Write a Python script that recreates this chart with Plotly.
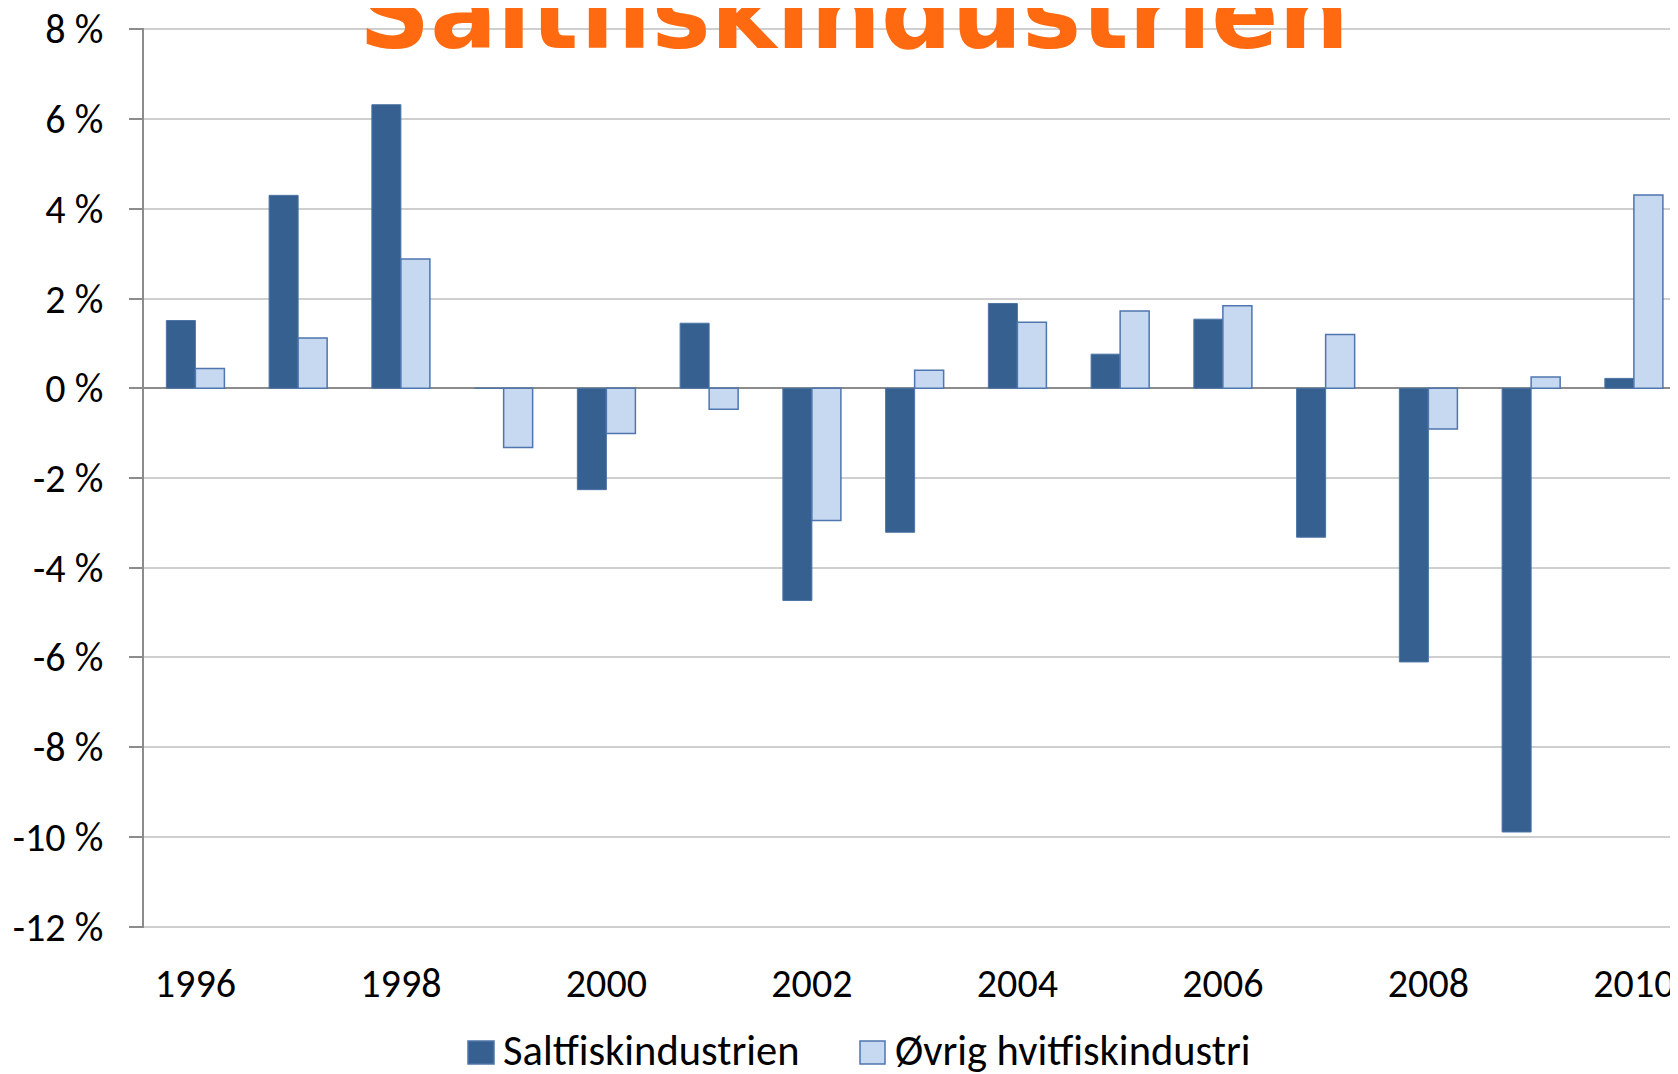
import plotly.graph_objects as go

years = [1996, 1997, 1998, 1999, 2000, 2001, 2002, 2003, 2004, 2005, 2006, 2007, 2008, 2009, 2010]
saltfisk = [1.51, 4.30, 6.32, 0.0, -2.26, 1.45, -4.73, -3.21, 1.89, 0.76, 1.54, -3.32, -6.10, -9.89, 0.22]
ovrig = [0.44, 1.12, 2.88, -1.32, -1.01, -0.47, -2.95, 0.40, 1.47, 1.72, 1.84, 1.20, -0.91, 0.25, 4.31]
x_tick_years = [1996, 1998, 2000, 2002, 2004, 2006, 2008, 2010]
y_ticks = [-12, -10, -8, -6, -4, -2, 0, 2, 4, 6, 8]
y_tick_text = [f"{v} %" for v in y_ticks]
series_names = ["Saltfiskindustrien", "Øvrig hvitfiskindustri"]
title_text = "Saltfiskindustrien"

# page body has an 8px margin; figure is laid out in window pixels
OFF = 8
W, H = 1678 - OFF, 1074 - OFF
PLOT_L, PLOT_T, PLOT_B = 144, 28, 928          # window pixels
L, T = PLOT_L - OFF, PLOT_T - OFF
B = H - (PLOT_B - OFF)
R = 0
PW, PH = W - L - R, H - T - B
CAT = 102.75
YPAD = 0.03

FONT = "Carlito, 'Liberation Sans Narrow', 'DejaVu Sans Condensed', Roboto, sans-serif"
DARK = "#36608F"
LIGHT = "#C6D9F1"
EDGE = "#4F76AE"
GRID = "#CFCFCF"

def px(x):
    return (x - PLOT_L) / PW

def py(y):
    return (PLOT_B - y) / PH

fig = go.Figure()
fig.add_trace(go.Bar(x=years, y=saltfisk, name=series_names[0],
                     marker=dict(color=DARK, line=dict(color="#4D74A6", width=1)),
                     showlegend=False))
fig.add_trace(go.Bar(x=years, y=ovrig, name=series_names[1],
                     marker=dict(color=LIGHT, line=dict(color=EDGE, width=1.5)),
                     showlegend=False))

fig.update_layout(
    width=W, height=H,
    margin=dict(l=L, r=R, t=T, b=B, pad=0, autoexpand=False),
    paper_bgcolor="white", plot_bgcolor="white",
    barmode="group", bargap=0.435, bargroupgap=0,
    font=dict(family=FONT, size=40, color="black"),
)
fig.update_xaxes(
    range=[1995.5, 1995.5 + PW / CAT], automargin=False,
    tickmode="array", tickvals=x_tick_years, ticktext=[str(v) for v in x_tick_years],
    showgrid=False, zeroline=False, showline=False, ticks="",
    ticklabelstandoff=28, ticklabeloverflow="allow",
    tickfont=dict(family=FONT, size=40, color="black"),
)
fig.update_yaxes(
    range=[y_ticks[0] - YPAD, y_ticks[-1] + YPAD], automargin=False,
    tickmode="array", tickvals=y_ticks, ticktext=y_tick_text,
    showgrid=True, gridcolor=GRID, gridwidth=1.5,
    zeroline=True, zerolinecolor="#8C8C8C", zerolinewidth=2,
    showline=True, linecolor="#8C8C8C", linewidth=1.5,
    ticks="outside", ticklen=13, tickcolor="#8C8C8C", tickwidth=1.5,
    ticklabelstandoff=18, ticklabeloverflow="allow",
    tickfont=dict(family=FONT, size=40, color="black"),
)

# outer gridlines (top and bottom of the value range)
for yv in (y_ticks[0], y_ticks[-1]):
    fig.add_shape(type="line", xref="paper", yref="y", x0=0, x1=1, y0=yv, y1=yv,
                  line=dict(color=GRID, width=1.5), layer="below")

# Title
fig.add_annotation(
    text=f"<b>{title_text}</b>", xref="paper", yref="paper",
    x=px(853.5), y=py(73), xanchor="center", yanchor="bottom",
    showarrow=False,
    font=dict(family="'DejaVu Sans', sans-serif", size=99, color="#FF6A10"),
)

# Legend (drawn)
legend_items = [
    (468, 494, DARK, "#4D74A6", 501),
    (860, 885, LIGHT, EDGE, 893),
]
for (x0, x1, fill, edge, tx), name in zip(legend_items, series_names):
    fig.add_shape(type="rect", xref="paper", yref="paper",
                  x0=px(x0), x1=px(x1), y0=py(1064), y1=py(1041),
                  fillcolor=fill, line=dict(color=edge, width=1.5))
    fig.add_annotation(text=name, xref="paper", yref="paper",
                       x=px(tx), y=py(1050), xanchor="left", yanchor="middle",
                       showarrow=False, font=dict(family=FONT, size=42.5, color="black"))

fig.write_html("out.html")
